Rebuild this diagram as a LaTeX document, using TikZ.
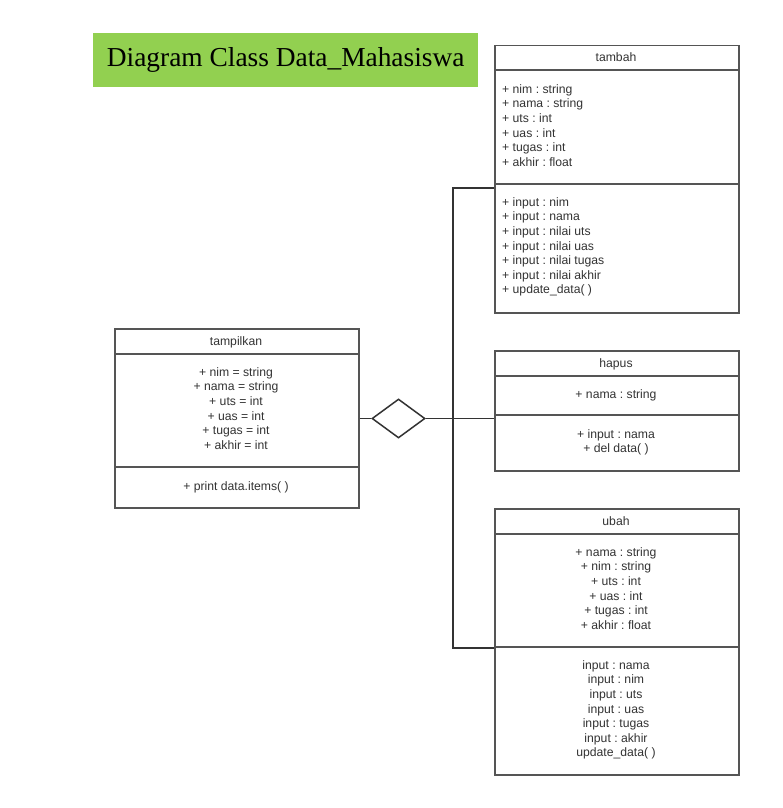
\documentclass[tikz,border=0pt]{standalone}
\usepackage{fontspec}
\setmainfont{Liberation Sans}
\newfontfamily\titlefont{Liberation Serif}
\usetikzlibrary{shapes.geometric}
\definecolor{titlegreen}{HTML}{92D050}
\definecolor{linegray}{HTML}{555555}
\definecolor{textgray}{HTML}{333333}
\frenchspacing
\begin{document}
\begin{tikzpicture}[x=1pt,y=-1pt,
  box/.style={draw=linegray,line width=1.5pt,fill=white},
  sep/.style={draw=linegray,line width=1.5pt},
  conn/.style={draw=black!80,line width=1.5pt},
  lbl/.style={inner sep=0pt,text=textgray,font=\fontsize{12.2}{14.6}\selectfont,align=left},
  clbl/.style={inner sep=0pt,text=textgray,font=\fontsize{12.2}{14.6}\selectfont,align=center},
  dia/.style={diamond,draw=black!80,line width=1.5pt,fill=white,minimum width=53pt,minimum height=39pt,inner sep=0pt,aspect=1.36}
]
\useasboundingbox (0,0) rectangle (782,808);
% title
\node[fill=titlegreen,minimum width=385pt,minimum height=54pt,anchor=north west,inner sep=0pt] (title) at (93,33)
  {\titlefont\fontsize{27.4}{30}\selectfont Diagram Class Data\_Mahasiswa};

% tambah (base anchor of a multi-line text = baseline of its last line)
\node[box,anchor=north west,minimum width=244pt,minimum height=267pt,inner sep=0pt] (tambah) at (494,45) {};
\draw[sep] (494,70) -- (738,70);
\draw[sep] (494,184) -- (738,184);
\node[clbl,anchor=base] (tambahH) at (616,62) {tambah};
\node[lbl,anchor=base west] (tambahA) at (502,166.3) {+ nim : string\\+ nama : string\\+ uts : int\\+ uas : int\\+ tugas : int\\+ akhir : float};
\node[lbl,anchor=base west] (tambahM) at (502,293.9) {+ input : nim\\+ input : nama\\+ input : nilai uts\\+ input : nilai uas\\+ input : nilai tugas\\+ input : nilai akhir\\+ update\_data( )};

% tampilkan
\node[box,anchor=north west,minimum width=244pt,minimum height=179pt,inner sep=0pt] (tampil) at (114,328) {};
\draw[sep] (114,354) -- (358,354);
\draw[sep] (114,467) -- (358,467);
\node[clbl,anchor=base] (tampilH) at (236,345) {tampilkan};
\node[clbl,anchor=base] (tampilA) at (236,449.3) {+ nim = string\\+ nama = string\\+ uts = int\\+ uas = int\\+ tugas = int\\+ akhir = int};
\node[clbl,anchor=base] (tampilM) at (236,490.3) {+ print data.items( )};

% hapus
\node[box,anchor=north west,minimum width=244pt,minimum height=120pt,inner sep=0pt] (hapus) at (494,350) {};
\draw[sep] (494,376) -- (738,376);
\draw[sep] (494,415) -- (738,415);
\node[clbl,anchor=base] (hapusH) at (616,367) {hapus};
\node[clbl,anchor=base] (hapusA) at (616,398.3) {+ nama : string};
\node[clbl,anchor=base] (hapusM) at (616,452.9) {+ input : nama\\+ del data( )};

% ubah
\node[box,anchor=north west,minimum width=244pt,minimum height=266pt,inner sep=0pt] (ubah) at (494,508) {};
\draw[sep] (494,534) -- (738,534);
\draw[sep] (494,647) -- (738,647);
\node[clbl,anchor=base] (ubahH) at (616,525) {ubah};
\node[clbl,anchor=base] (ubahA) at (616,629.3) {+ nama : string\\+ nim : string\\+ uts : int\\+ uas : int\\+ tugas : int\\+ akhir : float};
\node[clbl,anchor=base] (ubahM) at (616,756.9) {input : nama\\input : nim\\input : uts\\input : uas\\input : tugas\\input : akhir\\update\_data( )};

% diamond and connectors
\node[dia] (agg) at (398.5,418.5) {};
\coordinate (jtop) at (453,188);
\coordinate (jbot) at (453,648);
\draw[conn] (tampil.east |- agg.west) -- (agg.west);
\draw[conn] (agg.east) -- (hapus.west |- agg.east);
\draw[conn] (tambah.west |- jtop) -- (jtop) -- (jbot) -- (ubah.west |- jbot);
\end{tikzpicture}
\end{document}
